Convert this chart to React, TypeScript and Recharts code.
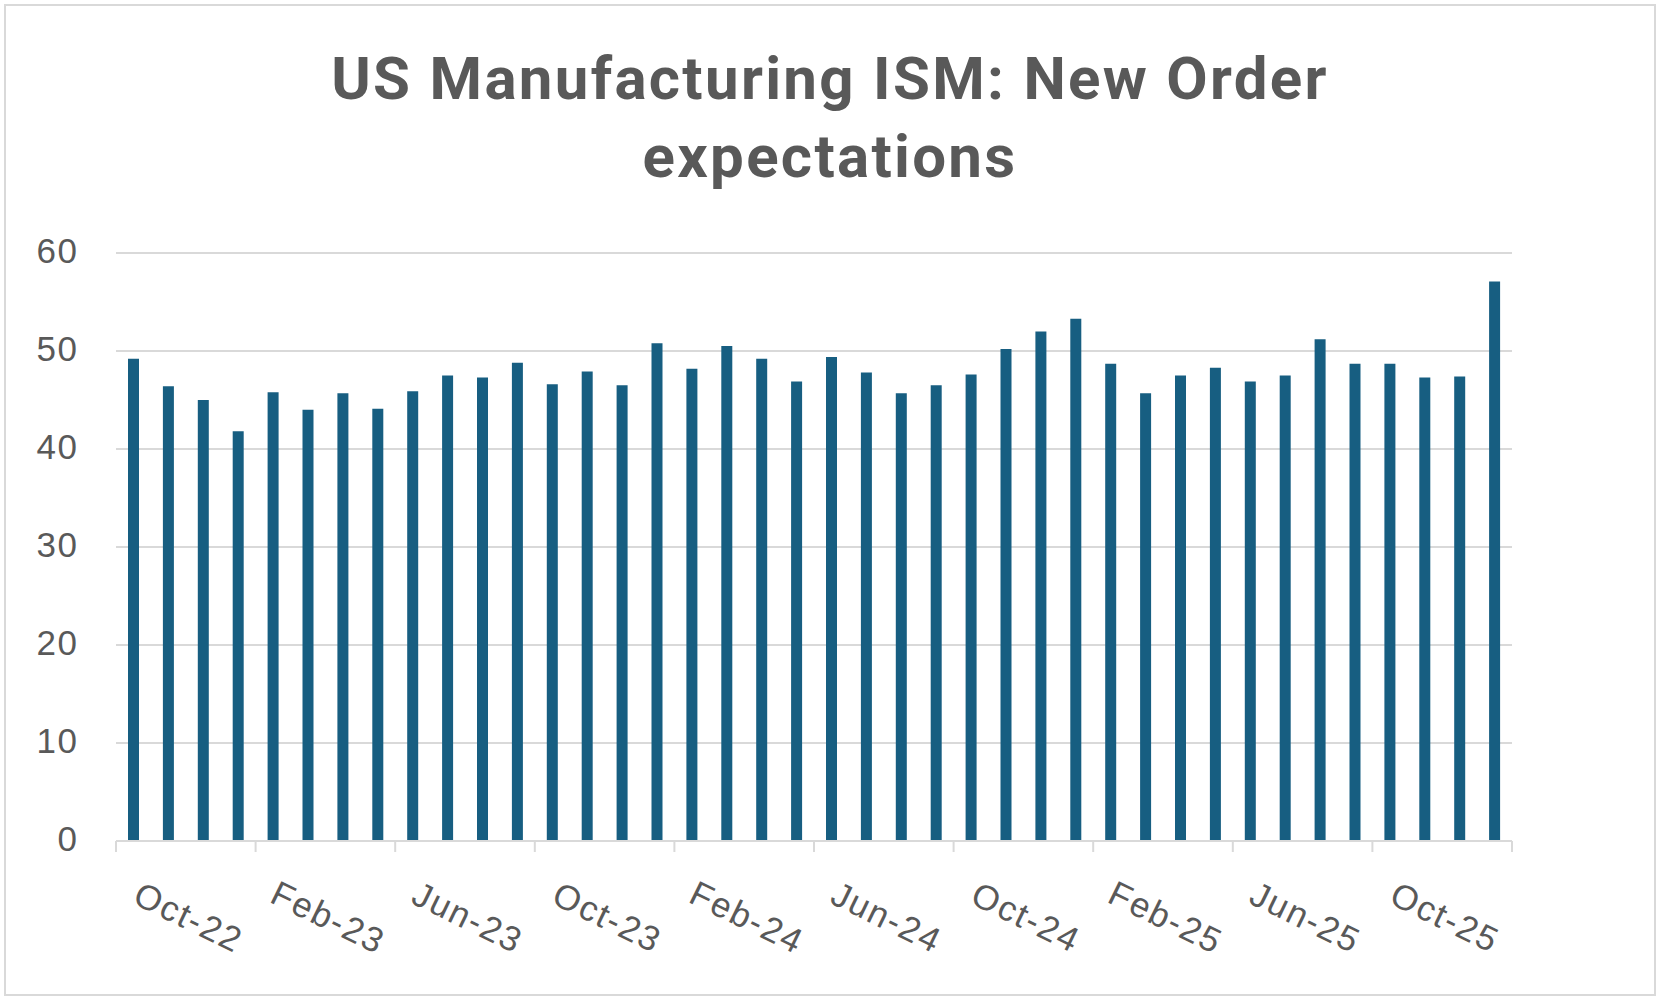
// @ts-nocheck
import { BarChart, Bar, XAxis, YAxis, CartesianGrid } from 'recharts';

const months = [
  'Oct-22', 'Nov-22', 'Dec-22', 'Jan-23', 'Feb-23', 'Mar-23', 'Apr-23', 'May-23',
  'Jun-23', 'Jul-23', 'Aug-23', 'Sep-23', 'Oct-23', 'Nov-23', 'Dec-23', 'Jan-24',
  'Feb-24', 'Mar-24', 'Apr-24', 'May-24', 'Jun-24', 'Jul-24', 'Aug-24', 'Sep-24',
  'Oct-24', 'Nov-24', 'Dec-24', 'Jan-25', 'Feb-25', 'Mar-25', 'Apr-25', 'May-25',
  'Jun-25', 'Jul-25', 'Aug-25', 'Sep-25', 'Oct-25', 'Nov-25', 'Dec-25', 'Jan-26',
];

const newOrders = [
  49.2, 46.4, 45.0, 41.8, 45.8, 44.0, 45.7, 44.1,
  45.9, 47.5, 47.3, 48.8, 46.6, 47.9, 46.5, 50.8,
  48.2, 50.5, 49.2, 46.9, 49.4, 47.8, 45.7, 46.5,
  47.6, 50.2, 52.0, 53.3, 48.7, 45.7, 47.5, 48.3,
  46.9, 47.5, 51.2, 48.7, 48.7, 47.3, 47.4, 57.1,
];

const yTicks = [0, 10, 20, 30, 40, 50, 60];

const data = months.map((month, i) => ({ month, value: newOrders[i] }));

const W = 1663;
const H = 1003;
const PLOT_LEFT = 116;
const PLOT_RIGHT = 1512;
const PLOT_TOP = 253;
const PLOT_BOTTOM = 841;
const X_AXIS_H = 110;
const BAND = (PLOT_RIGHT - PLOT_LEFT) / months.length;
const GROUP = 4;

const grey = '#d9d9d9';
const textGrey = '#595959';
const labelFont = '"Liberation Sans", Arial, sans-serif';

const XTick = ({ x, y, index }) => {
  const half = BAND / 2;
  const first = index % GROUP === 0;
  const last = index === months.length - 1;
  return (
    <g>
      {first && (
        <line x1={x - half} x2={x - half} y1={y} y2={y + 11} stroke={grey} strokeWidth={2} />
      )}
      {last && (
        <line x1={x + half} x2={x + half} y1={y} y2={y + 11} stroke={grey} strokeWidth={2} />
      )}
      {first && (
        <text
          transform={`translate(${x - half + (GROUP / 2) * BAND + 3}, ${y + 76}) rotate(26)`}
          textAnchor="middle"
          dominantBaseline="central"
          fontSize={35}
          letterSpacing={1.8}
          fill={textGrey}
          fontFamily={labelFont}
        >
          {months[index]}
        </text>
      )}
    </g>
  );
};

const YTick = ({ y, payload }) => (
  <text
    x={78.5}
    y={y - 3}
    dy="0.36em"
    textAnchor="end"
    fontSize={35}
    letterSpacing={1.5}
    fill={textGrey}
    fontFamily={labelFont}
  >
    {payload.value}
  </text>
);

export default function App() {
  return (
    <div style={{ position: 'absolute', left: 0, top: 0, width: W, height: H, background: '#fff' }}>
      <div
        style={{
          position: 'absolute', left: 4, top: 4, width: 1652, height: 992,
          border: `2px solid ${grey}`, boxSizing: 'border-box',
        }}
      />
      <div
        style={{
          position: 'absolute', left: 5, width: 1650, top: 40, textAlign: 'center',
          fontFamily: 'Roboto, sans-serif', fontWeight: 700, fontSize: 60, lineHeight: '78px',
          letterSpacing: 2.3, color: textGrey,
        }}
      >
        US Manufacturing ISM: New Order
        <br />
        expectations
      </div>
      <div style={{ position: 'absolute', left: 0, top: 0 }}>
        <BarChart
          width={W}
          height={H}
          data={data}
          margin={{ top: PLOT_TOP, right: W - PLOT_RIGHT, left: 0, bottom: H - PLOT_BOTTOM - X_AXIS_H }}
        >
          <CartesianGrid vertical={false} stroke={grey} strokeWidth={2} />
          <XAxis
            dataKey="month"
            interval={0}
            height={X_AXIS_H}
            tickLine={false}
            tickSize={0}
            tickMargin={0}
            axisLine={{ stroke: grey, strokeWidth: 2 }}
            tick={XTick}
          />
          <YAxis
            width={PLOT_LEFT}
            domain={[0, 60]}
            ticks={yTicks}
            axisLine={false}
            tickLine={false}
            tick={YTick}
          />
          <Bar dataKey="value" fill="#175e81" barSize={11} isAnimationActive={false} />
        </BarChart>
      </div>
    </div>
  );
}
